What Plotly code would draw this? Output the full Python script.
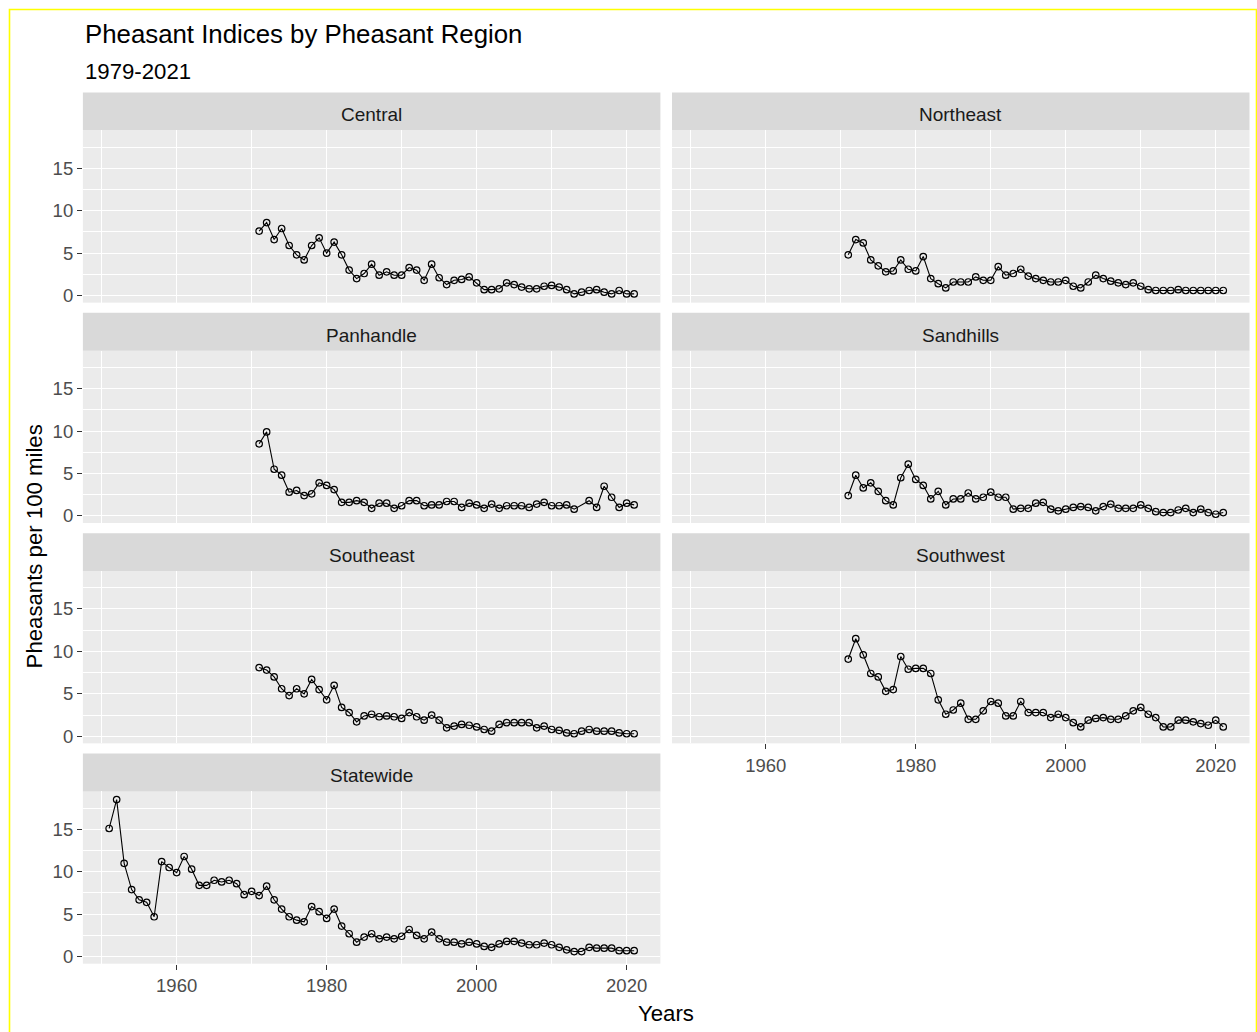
import plotly.graph_objects as go

# ---------------- data ----------------
years_region = list(range(1971, 2022))
years_statewide = list(range(1951, 2022))

central = [7.6, 8.6, 6.6, 7.9, 5.9, 4.8, 4.2, 5.9, 6.8, 5.0,
           6.3, 4.8, 3.0, 2.0, 2.6, 3.7, 2.4, 2.8, 2.4, 2.4,
           3.3, 3.0, 1.8, 3.7, 2.1, 1.3, 1.8, 1.9, 2.2, 1.5,
           0.7, 0.7, 0.8, 1.5, 1.3, 1.0, 0.8, 0.8, 1.1, 1.2,
           1.0, 0.7, 0.2, 0.4, 0.6, 0.7, 0.4, 0.2, 0.6, 0.2, 0.2]
northeast = [4.8, 6.6, 6.2, 4.2, 3.5, 2.8, 2.9, 4.2, 3.1, 2.9,
             4.6, 2.0, 1.4, 0.9, 1.6, 1.6, 1.6, 2.2, 1.8, 1.8,
             3.4, 2.4, 2.6, 3.1, 2.3, 2.0, 1.8, 1.6, 1.6, 1.8,
             1.1, 0.9, 1.6, 2.4, 2.0, 1.7, 1.5, 1.3, 1.5, 1.1,
             0.7, 0.6, 0.6, 0.6, 0.7, 0.6, 0.6, 0.6, 0.6, 0.6, 0.6]
panhandle = [8.5, 9.9, 5.5, 4.8, 2.8, 3.0, 2.4, 2.6, 3.9, 3.6,
             3.1, 1.6, 1.6, 1.8, 1.6, 0.9, 1.5, 1.5, 0.9, 1.2,
             1.8, 1.8, 1.2, 1.3, 1.3, 1.7, 1.7, 1.0, 1.5, 1.3,
             0.9, 1.4, 0.9, 1.2, 1.2, 1.2, 1.0, 1.4, 1.6, 1.2,
             1.2, 1.3, 0.8, None, 1.8, 1.0, 3.5, 2.2, 1.0, 1.5, 1.3]
sandhills = [2.4, 4.8, 3.3, 3.9, 2.9, 1.8, 1.3, 4.5, 6.1, 4.3,
             3.6, 2.0, 2.9, 1.3, 2.0, 2.0, 2.7, 2.0, 2.2, 2.8,
             2.2, 2.2, 0.8, 0.9, 0.9, 1.5, 1.6, 0.8, 0.6, 0.8,
             1.0, 1.1, 1.0, 0.6, 1.1, 1.4, 0.9, 0.9, 0.9, 1.3,
             0.9, 0.5, 0.4, 0.4, 0.7, 0.9, 0.4, 0.8, 0.4, 0.2, 0.4]
southeast = [8.1, 7.8, 7.0, 5.6, 4.8, 5.6, 5.0, 6.7, 5.5, 4.3,
             6.0, 3.4, 2.8, 1.7, 2.4, 2.6, 2.3, 2.4, 2.3, 2.1,
             2.8, 2.3, 1.9, 2.5, 1.9, 1.0, 1.2, 1.4, 1.3, 1.1,
             0.8, 0.6, 1.4, 1.6, 1.6, 1.6, 1.6, 1.0, 1.2, 0.8,
             0.7, 0.4, 0.3, 0.6, 0.8, 0.6, 0.6, 0.6, 0.4, 0.3, 0.3]
southwest = [9.1, 11.5, 9.6, 7.4, 7.0, 5.3, 5.5, 9.4, 7.9, 8.0,
             8.0, 7.4, 4.3, 2.6, 3.1, 3.9, 2.0, 2.0, 3.0, 4.1,
             3.9, 2.4, 2.4, 4.1, 2.8, 2.8, 2.8, 2.2, 2.6, 2.2,
             1.6, 1.1, 1.9, 2.1, 2.2, 2.0, 2.0, 2.4, 3.0, 3.4,
             2.6, 2.2, 1.1, 1.1, 1.9, 1.9, 1.7, 1.5, 1.3, 1.9, 1.1]
statewide = [15.1, 18.5, 11.0, 7.9, 6.7, 6.4, 4.7, 11.2, 10.5, 9.9,
             11.8, 10.3, 8.4, 8.4, 9.0, 8.8, 9.0, 8.6, 7.3, 7.7,
             7.2, 8.3, 6.7, 5.6, 4.7, 4.3, 4.1, 5.9, 5.3, 4.5,
             5.6, 3.6, 2.7, 1.7, 2.3, 2.7, 2.1, 2.3, 2.1, 2.4,
             3.2, 2.5, 2.1, 2.9, 2.1, 1.7, 1.7, 1.5, 1.7, 1.5,
             1.2, 1.1, 1.5, 1.8, 1.8, 1.6, 1.4, 1.4, 1.6, 1.4,
             1.1, 0.8, 0.6, 0.6, 1.1, 1.0, 1.0, 1.0, 0.7, 0.7, 0.7]

panel_names = ["Central", "Northeast", "Panhandle", "Sandhills",
               "Southeast", "Southwest", "Statewide"]
panel_values = [central, northeast, panhandle, sandhills,
                southeast, southwest, statewide]
panel_years = [years_region] * 6 + [years_statewide]

x_ticks = [1960, 1980, 2000, 2020]
x_minor = [1950, 1970, 1990, 2010]
y_ticks = [0, 5, 10, 15]
y_minor = [2.5, 7.5, 12.5, 17.5]

title_text = "Pheasant Indices by Pheasant Region"
subtitle_text = "1979-2021"
x_title = "Years"
y_title = "Pheasants per 100 miles"

# ---------------- layout geometry (pixels) ----------------
W, H = 1257, 1032
FONT = "Liberation Sans, Arial, Helvetica, sans-serif"
COL_X = [(82.9, 660.4), (672.0, 1249.5)]
ROW0_TOP = 92.7
ROW_PITCH = 221.0
STRIP_H = 38.0
PANEL_H = 172.8
X_RANGE = [1947.5, 2024.5]
Y_RANGE = [-0.83, 19.47]


def fx(p):
    return p / W


def fy(p):
    return 1 - p / H


fig = go.Figure()
layout_axes = {}
shapes = []
annotations = []

for k, name in enumerate(panel_names):
    r, c = divmod(k, 2)
    x0, x1 = COL_X[c]
    st = ROW0_TOP + r * ROW_PITCH
    sb = st + STRIP_H
    pb = sb + PANEL_H
    xa = "x" if k == 0 else f"x{k + 1}"
    ya = "y" if k == 0 else f"y{k + 1}"
    xkey = "xaxis" if k == 0 else f"xaxis{k + 1}"
    ykey = "yaxis" if k == 0 else f"yaxis{k + 1}"

    fig.add_trace(go.Scatter(
        x=panel_years[k], y=panel_values[k], mode="lines+markers",
        xaxis=xa, yaxis=ya, connectgaps=True, showlegend=False,
        line=dict(color="black", width=1.1),
        marker=dict(symbol="circle-open", size=6.5, color="black",
                    line=dict(width=1.2, color="black")),
        name=name,
    ))

    bottom = k in (5, 6)
    left = c == 0
    layout_axes[xkey] = dict(
        domain=[fx(x0), fx(x1)], anchor=ya, range=X_RANGE,
        tickmode="array", tickvals=x_ticks,
        ticktext=[str(v) for v in x_ticks],
        showticklabels=bottom, ticks="outside" if bottom else "",
        ticklen=5, tickwidth=1.1, tickcolor="#333333",
        tickfont=dict(size=18.5, color="#4D4D4D", family=FONT),
        showgrid=True, gridcolor="white", gridwidth=1.4,
        minor=dict(tickmode="array", tickvals=x_minor, showgrid=True,
                   gridcolor="white", gridwidth=0.7, ticks=""),
        zeroline=False, showline=False, fixedrange=True,
    )
    layout_axes[ykey] = dict(
        domain=[fy(pb), fy(sb)], anchor=xa, range=Y_RANGE,
        tickmode="array", tickvals=y_ticks,
        ticktext=[str(v) for v in y_ticks],
        showticklabels=left, ticks="outside" if left else "",
        ticklen=5, tickwidth=1.1, tickcolor="#333333",
        tickfont=dict(size=18.5, color="#4D4D4D", family=FONT),
        showgrid=True, gridcolor="white", gridwidth=1.4,
        minor=dict(tickmode="array", tickvals=y_minor, showgrid=True,
                   gridcolor="white", gridwidth=0.7, ticks=""),
        zeroline=False, showline=False, fixedrange=True,
    )

    shapes.append(dict(type="rect", xref="paper", yref="paper",
                       x0=fx(x0), x1=fx(x1), y0=fy(sb), y1=fy(st),
                       fillcolor="#D9D9D9", line=dict(width=0), layer="below"))
    annotations.append(dict(text=name, xref="paper", yref="paper",
                            x=fx((x0 + x1) / 2), y=fy((st + sb) / 2 + 3.5),
                            xanchor="center", yanchor="middle", showarrow=False,
                            font=dict(size=19, color="#1A1A1A", family=FONT)))

# titles
annotations.append(dict(text=title_text, xref="paper", yref="paper",
                        x=fx(83), y=fy(34.5), xanchor="left", yanchor="middle",
                        showarrow=False, font=dict(size=25.8, color="black", family=FONT)))
annotations.append(dict(text=subtitle_text, xref="paper", yref="paper",
                        x=fx(83), y=fy(72), xanchor="left", yanchor="middle",
                        showarrow=False, font=dict(size=22.2, color="black", family=FONT)))
annotations.append(dict(text=x_title, xref="paper", yref="paper",
                        x=fx((COL_X[0][0] + COL_X[1][1]) / 2), y=fy(1016),
                        xanchor="center", yanchor="middle",
                        showarrow=False, font=dict(size=22.2, color="black", family=FONT)))
annotations.append(dict(text=y_title, xref="paper", yref="paper",
                        x=fx(34), y=fy(548), xanchor="center", yanchor="middle",
                        textangle=-90,
                        showarrow=False, font=dict(size=22.2, color="black", family=FONT)))

# outer yellow frame seen in the reference
shapes.append(dict(type="rect", xref="paper", yref="paper",
                   x0=fx(9.5), x1=fx(1256.5), y0=fy(1045), y1=fy(9.5),
                   line=dict(color="#FFFF00", width=1.6), fillcolor="rgba(0,0,0,0)",
                   layer="above"))

fig.update_layout(
    width=W, height=H,
    margin=dict(l=0, r=0, t=0, b=0, pad=0),
    paper_bgcolor="white", plot_bgcolor="#EBEBEB",
    font=dict(family=FONT, color="black"),
    shapes=shapes, annotations=annotations,
    showlegend=False,
    **layout_axes,
)

fig.write_html("out.html",
               config={"displayModeBar": False},
               post_script="document.body.style.margin='0';document.body.style.overflow='hidden';")
